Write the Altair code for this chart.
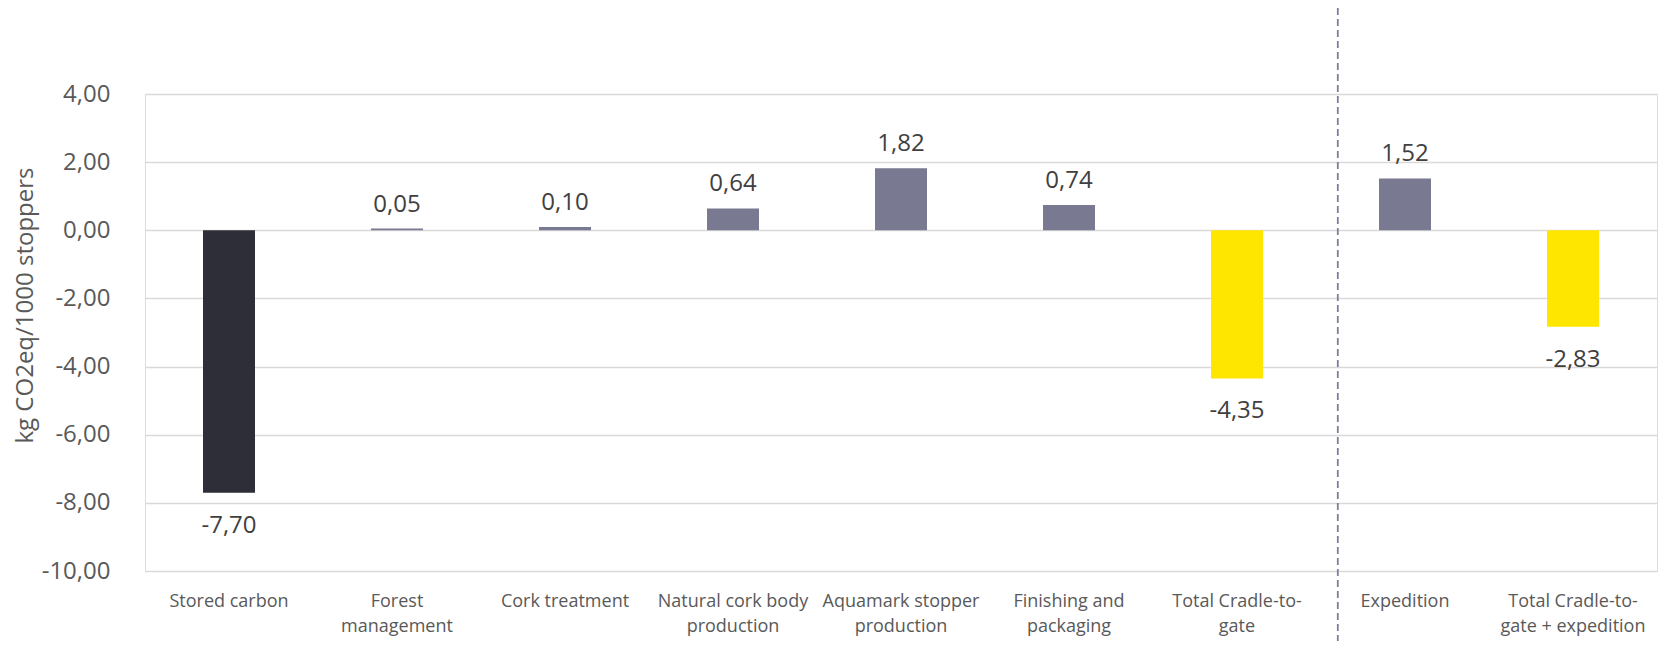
import altair as alt
import pandas as pd

categories = [
    "Stored carbon",
    "Forest|management",
    "Cork treatment",
    "Natural cork body|production",
    "Aquamark stopper|production",
    "Finishing and|packaging",
    "Total Cradle-to-|gate",
    "Expedition",
    "Total Cradle-to-|gate + expedition",
]
values = [-7.70, 0.05, 0.10, 0.64, 1.82, 0.74, -4.35, 1.52, -2.83]
groups = ["stored", "stage", "stage", "stage", "stage", "stage", "total", "stage", "total"]
group_names = ["stored", "stage", "total"]
group_colors = ["#2E2E38", "#797991", "#FFE600"]
y_ticks = [-10, -8, -6, -4, -2, 0, 2, 4]
separator_before = ["Expedition"]

FONT = "Open Sans"

df = pd.DataFrame({
    "cat": categories,
    "value": values,
    "group": groups,
    "label": [f"{v:.2f}".replace(".", ",") for v in values],
})

x_scale = alt.Scale(domain=categories, paddingInner=0, paddingOuter=0)

x_enc = alt.X(
    "cat:N",
    scale=x_scale,
    axis=alt.Axis(
        title=None,
        labelAngle=0,
        labelExpr="split(datum.label, '|')",
        labelFont=FONT,
        labelFontSize=18,
        labelColor="#595959",
        labelLineHeight=25.5,
        labelPadding=21,
        labelLimit=400,
        ticks=False,
        tickSize=0,
        domain=False,
        grid=False,
    ),
)

y_enc = alt.Y(
    "value:Q",
    scale=alt.Scale(domain=[-10, 4], nice=False, zero=True),
    axis=alt.Axis(
        values=y_ticks,
        labelExpr="replace(replace(format(datum.value, '.2f'), '.', ','), '\u2212', '-')",
        labelFont=FONT,
        labelFontSize=24,
        labelColor="#595959",
        labelPadding=35,
        ticks=False,
        tickSize=0,
        domain=False,
        grid=True,
        gridColor="#D9D9D9",
        gridWidth=1.4,
        title="kg CO2eq/1000 stoppers",
        titleFont=FONT,
        titleFontSize=24,
        titleFontWeight="normal",
        titleColor="#595959",
        titleAngle=-90,
        titleAlign="center",
        titleBaseline="alphabetic",
        titleX=-113,
        titleY=211,
    ),
)

base = alt.Chart(df)

bars = base.mark_bar(width=52).encode(
    x=x_enc,
    y=y_enc,
    color=alt.Color("group:N", scale=alt.Scale(domain=group_names, range=group_colors), legend=None),
)

pos_text = base.transform_filter("datum.value >= 0").mark_text(
    baseline="alphabetic", dy=-17, fontSize=24, font=FONT, color="#404040"
).encode(x=alt.X("cat:N", scale=x_scale), y="value:Q", text="label:N")

neg_text = base.transform_filter("datum.value < 0").mark_text(
    baseline="alphabetic", dy=40, fontSize=24, font=FONT, color="#404040"
).encode(x=alt.X("cat:N", scale=x_scale), y="value:Q", text="label:N")

rule = alt.Chart(pd.DataFrame({"cat": separator_before})).mark_rule(
    strokeDash=[7, 4], color="#7F7F99", strokeWidth=1.8
).encode(
    x=alt.X("cat:N", scale=x_scale, bandPosition=0.1),
    y=alt.value(-86),
    y2=alt.value(547),
)

chart = alt.layer(bars, pos_text, neg_text, rule).properties(
    width=1512,
    height=477,
    autosize=alt.AutoSizeParams(type="none"),
    padding={"left": 137, "top": 86, "right": 3, "bottom": 70},
).configure_view(stroke=None).configure(background="white")

chart.save("out.html", embed_options={"renderer": "svg", "actions": False})
